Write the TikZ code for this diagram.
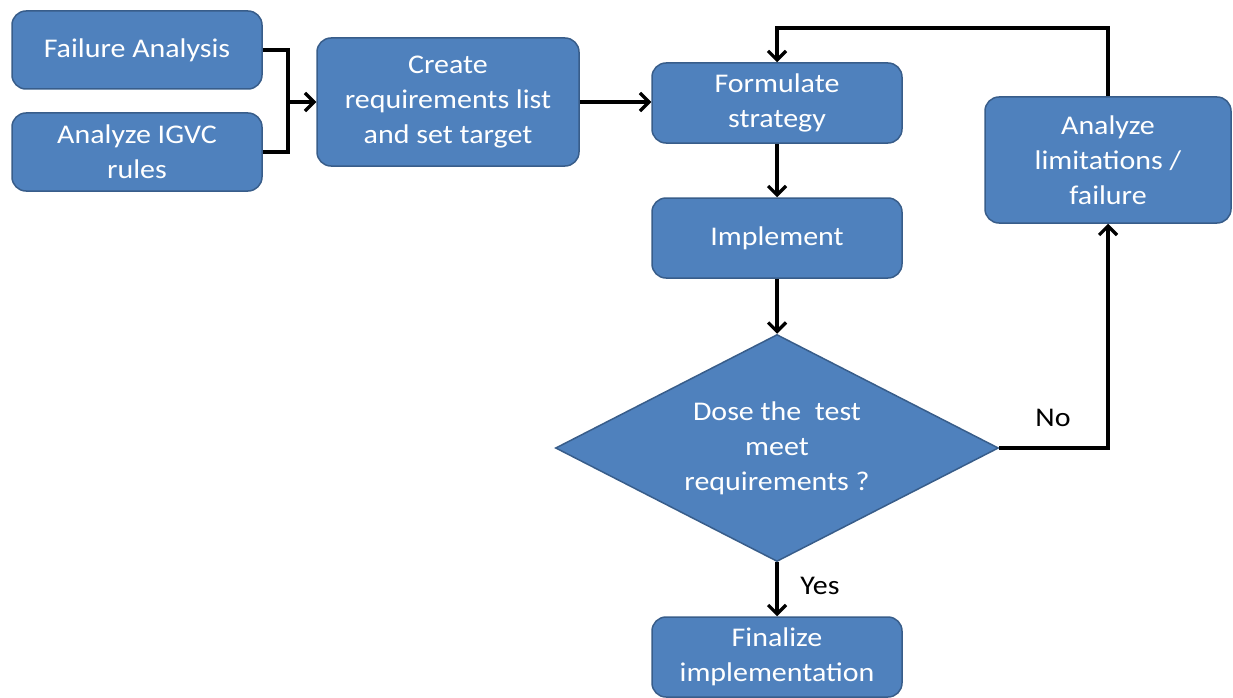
\documentclass[tikz,border=0pt]{standalone}
\usepackage{fontspec}
\setmainfont[FakeStretch=1.11]{Carlito}
\usetikzlibrary{arrows.meta,shapes.geometric}
\definecolor{boxfill}{RGB}{79,129,189}
\definecolor{boxline}{RGB}{56,93,138}
\tikzset{
  box/.style={rectangle, rounded corners=14pt, fill=boxfill, draw=boxline, line width=1.5pt,
    text=white, align=center, inner sep=0pt, font=\fontsize{27}{35}\selectfont},
  decision/.style={diamond, aspect=1.95, fill=boxfill, draw=boxline, line width=1.5pt,
    text=white, align=center, inner sep=0pt, minimum width=443pt, minimum height=227pt,
    font=\fontsize{27}{35}\selectfont},
  conn/.style={line width=3.2pt, draw=black},
  arr/.style={conn, -{Straight Barb[length=9pt,width=18pt,line width=3.2pt]}},
  lbl/.style={text=black, font=\fontsize{27}{35}\selectfont, inner sep=0pt}
}
\begin{document}
\begin{tikzpicture}[x=1pt,y=-1pt]
\useasboundingbox (0,0) rectangle (1233,698);
\node[box, minimum width=250pt, minimum height=78pt] (fa) at (137,50) {Failure Analysis};
\node[box, minimum width=250pt, minimum height=78pt] (ig) at (137,152) {Analyze IGVC\\rules};
\node[box, minimum width=262pt, minimum height=128pt] (cr) at (448,102) {Create\\requirements list\\and set target};
\node[box, minimum width=250pt, minimum height=80pt] (fs) at (777,103) {Formulate\\strategy};
\node[box, minimum width=250pt, minimum height=80pt] (im) at (777,238) {Implement};
\node[decision] (dm) at (777,448) {Dose the\ \ test\\meet\\requirements ?};
\node[box, minimum width=250pt, minimum height=80pt] (fi) at (777,657) {Finalize\\implementation};
\node[box, minimum width=246pt, minimum height=126pt] (al) at (1108,160) {Analyze\\limitations /\\failure};
\coordinate (j) at (288,102);
\coordinate (t) at (777,28);
\draw[conn] (fa.east) -- (fa.east -| j) -- (ig.east -| j) -- (ig.east);
\draw[arr] (j) -- (cr.west);
\draw[arr] (cr.east) -- (cr.east -| fs.west);
\draw[arr] (fs.south) -- (im.north);
\draw[arr] (im.south) -- (dm.north);
\draw[arr] (dm.south) -- (fi.north);
\node[lbl] (yes) at (820,586) {Yes};
\draw[arr] (dm.east) -| (al.south);
\node[lbl] (no) at (1053,418) {No};
\draw[arr] (al.north) |- (t) -- (fs.north);
\end{tikzpicture}
\end{document}
